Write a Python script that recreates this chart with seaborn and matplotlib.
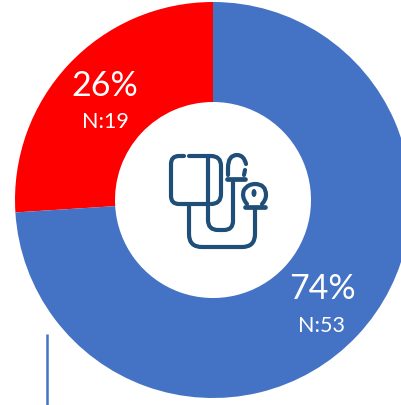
import matplotlib
matplotlib.use("Agg")
import matplotlib.pyplot as plt
from matplotlib.path import Path
from matplotlib.patches import PathPatch, Ellipse
import seaborn as sns

# ---------------- DATA ----------------
categories = ["Red", "Blue"]
percent = [26, 74]
counts = [19, 53]
colors = ["#FF0000", "#4472C4"]
# --------------------------------------

ICON = "#1F4E79"
W, H = 401, 405

sns.set_theme(style="white")
plt.rcParams["font.family"] = ["Lato", "DejaVu Sans"]

fig = plt.figure(figsize=(W / 100, H / 100), dpi=100)

# donut, radius 198 px around (213, 200)
cx, cy, r = 213, 200, 198
ax = fig.add_axes([(cx - r) / W, (H - cy - r) / H, 2 * r / W, 2 * r / H])
ax.pie(percent, colors=colors, startangle=90, counterclock=True, radius=1,
       wedgeprops=dict(width=0.505, linewidth=0))
ax.set_xlim(-1, 1)
ax.set_ylim(-1, 1)

# overlay in pixel coords for the labels and the icon
ov = fig.add_axes([0, 0, 1, 1])
ov.set_xlim(0, W)
ov.set_ylim(H, 0)
ov.axis("off")
ov.patch.set_alpha(0)

label_pos = [((105, 86), (105, 122)), ((322, 289), (322, 326))]
for pct, n, (p1, p2) in zip(percent, counts, label_pos):
    ov.text(p1[0], p1[1], f"{pct}%", color="white", fontsize=24.5, ha="center", va="center")
    ov.text(p2[0], p2[1], f"N:{n}", color="white", fontsize=15.5, ha="center", va="center")

# stray line bottom left
ov.plot([47, 47], [334, 405], color="#4472C4", lw=1.8, solid_capstyle="butt")


def stroke(*segs, lw=3.0):
    # segs: (x, y) is a line to, ((cx, cy), (x, y)) is a rounded corner to
    verts, codes = [], []
    for i, s in enumerate(segs):
        if isinstance(s[0], tuple):
            verts += [s[0], s[1]]
            codes += [Path.CURVE3, Path.CURVE3]
        else:
            verts.append(s)
            codes.append(Path.MOVETO if i == 0 else Path.LINETO)
    ov.add_patch(PathPatch(Path(verts, codes), fill=False, edgecolor=ICON, lw=lw,
                           capstyle="round", joinstyle="round"))


# cuff
stroke((184, 156), (179, 156), ((171, 156), (171, 164)), (171, 196), ((171, 204), (179, 204)),
       (208, 204))
stroke((189, 156), (211, 156), ((221, 156), (221, 166)), (221, 194), ((221, 204), (211, 204)))
# inner tube
stroke((208, 156), (208, 220), ((208, 230), (218, 230)), (224, 230), ((233, 230), (233, 221)),
       (233, 182))
# bulb
stroke((228, 175), (228, 168), ((228, 155), (237, 155)), ((244, 155), (246, 164)))
stroke((245, 170), (244, 175))
stroke((227, 179), (245, 179), lw=3.4)
# gauge
stroke((247, 204), ((241, 197), (244, 190)), ((248, 184), (255, 184)), ((266, 184), (266, 195)),
       ((266, 200), (262, 204)))
stroke((245, 207), (265, 207), lw=3.4)
ov.add_patch(Ellipse((254, 193), 5, 8, color=ICON, lw=0))
# long tube
stroke((255, 208), (255, 234), ((255, 247), (242, 247)), (202, 247), ((189, 247), (189, 234)),
       (189, 206))

fig.savefig("out.png", dpi=100)
